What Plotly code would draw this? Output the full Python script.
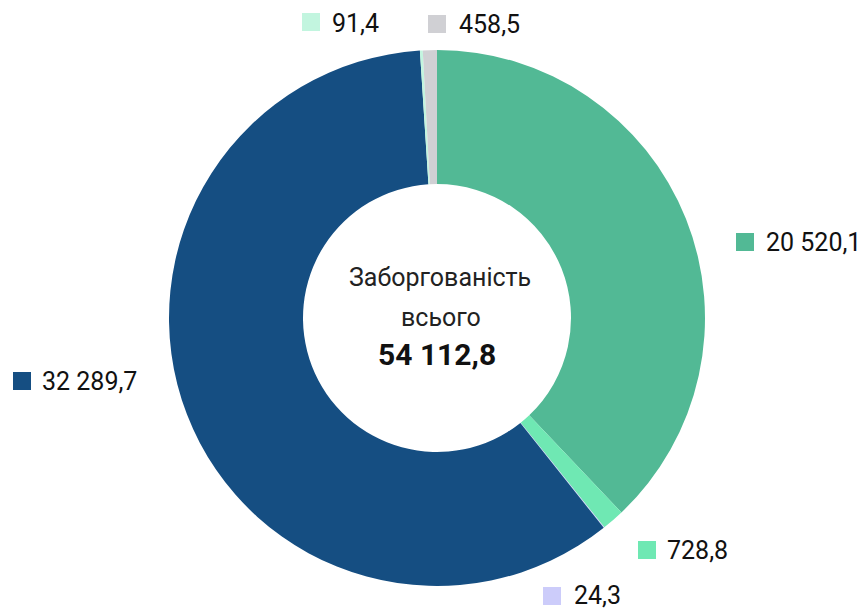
import plotly.graph_objects as go

# page body has an 8px margin, so the figure is drawn 8px inside the window
OFF = 8
W, H = 858, 606

labels = ["Категорія 1", "Категорія 2", "Категорія 3", "Категорія 4", "Категорія 5", "Категорія 6"]
values = [20520.1, 728.8, 24.3, 32289.7, 91.4, 458.5]
value_text = ["20 520,1", "728,8", "24,3", "32 289,7", "91,4", "458,5"]
colors = ["#52B995", "#6FE8B3", "#CCCCFA", "#154E82", "#C2F5DF", "#D0D0D4"]
center_lines = ["Заборгованість", "всього", "54 112,8"]

FONT = "Roboto, sans-serif"


def px(x):
    return (x - OFF) / W


def py(y):
    return 1 - (y - OFF) / H


# pie centre and outer radius in window pixels
cx, cy, r = 437, 318, 268

fig = go.Figure(go.Pie(
    labels=labels, values=values, sort=False, direction="clockwise", rotation=0,
    hole=0.5, marker=dict(colors=colors, line=dict(width=0)),
    textinfo="none", hoverinfo="label+value", showlegend=False,
    domain=dict(x=[px(cx - r), px(cx + r)], y=[py(cy + r), py(cy - r)]),
))

# label positions in window pixels: (square left x, square centre y, text left x, text centre y)
label_pos = [(736, 242, 765, 242), (638, 550, 666, 550), (543, 596, 573, 595),
             (13, 381, 41, 381), (302, 22, 331, 24), (428, 24, 458, 25)]
sq = 18
for (x, y, tx, ty), c, t in zip(label_pos, colors, value_text):
    fig.add_shape(type="rect", xref="paper", yref="paper",
                  x0=px(x), x1=px(x + sq), y0=py(y - sq / 2), y1=py(y + sq / 2),
                  fillcolor=c, line=dict(width=0))
    fig.add_annotation(x=px(tx), y=py(ty), xref="paper", yref="paper",
                       text=t, showarrow=False, xanchor="left", yanchor="middle", borderpad=0,
                       font=dict(family=FONT, size=25, color="#111111"))

fig.add_annotation(x=px(440), y=py(278), xref="paper", yref="paper", text=center_lines[0],
                   showarrow=False, font=dict(family=FONT, size=25, color="#222222"))
fig.add_annotation(x=px(441), y=py(317), xref="paper", yref="paper", text=center_lines[1],
                   showarrow=False, font=dict(family=FONT, size=25, color="#222222"))
fig.add_annotation(x=px(437), y=py(354), xref="paper", yref="paper", text="<b>" + center_lines[2] + "</b>",
                   showarrow=False, font=dict(family=FONT, size=30, color="#111111"))

fig.update_layout(width=W, height=H, margin=dict(l=0, r=0, t=0, b=0),
                  paper_bgcolor="white", plot_bgcolor="white")
fig.write_html("out.html")
